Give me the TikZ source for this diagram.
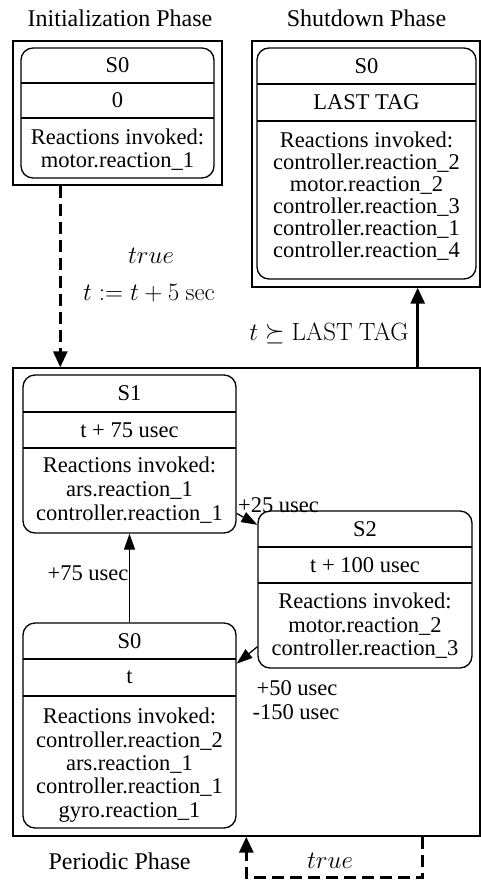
\documentclass[tikz,border=0pt]{standalone}
\usepackage{fix-cm}
\usepackage[no-math]{fontspec}
\setmainfont{Liberation Serif}
\usetikzlibrary{arrows.meta}
\begin{document}
\begin{tikzpicture}[x=1pt,y=-1pt,
  nf/.style={font=\fontsize{22.5}{27}\selectfont, inner sep=0pt},
  tf/.style={font=\fontsize{24}{29}\selectfont, inner sep=0pt},
  mf/.style={font=\fontsize{25}{30}\selectfont, inner sep=0pt},
  cluster/.style={draw, line width=1.4pt, inner sep=0pt, rectangle},
  state/.style={draw, line width=1.3pt, rounded corners=12pt, inner sep=0pt, rectangle},
  div/.style={line width=1.3pt},
  edge/.style={line width=1.3pt, -{Triangle[length=16pt,width=11pt]}},
  bigedge/.style={line width=3pt, -{Triangle[length=16pt,width=14pt]}},
  dashedge/.style={bigedge, dash pattern=on 12pt off 6pt},
]
\useasboundingbox (0,0) rectangle (481,884);

% ---------- Initialization phase ----------
\node[tf, anchor=base] (tInit) at (120,26) {Initialization Phase};
\node[cluster, minimum width=209pt, minimum height=144pt] (initbox) at (117.5,113) {};
\node[state, minimum width=193pt, minimum height=130pt] (initS0) at (117.5,113) {};
\draw[div] (21,83) -- (214,83);
\draw[div] (21,118) -- (214,118);
\node[nf] (iS) at (117.5,65.5) {S0};
\node[nf] (iT) at (117.5,100.5) {0};
\node[nf, anchor=base] (iR1) at (117.5,144) {Reactions invoked:};
\node[nf, anchor=base] (iR2) at (117.5,167) {motor.reaction\_1};

% ---------- Shutdown phase ----------
\node[tf, anchor=base] (tShut) at (366.5,26) {Shutdown Phase};
\node[cluster, minimum width=228pt, minimum height=246pt] (shutbox) at (366,164) {};
\node[state, minimum width=219pt, minimum height=231pt] (shutS0) at (366.5,163.5) {};
\draw[div] (257,84) -- (476,84);
\draw[div] (257,121) -- (476,121);
\node[nf] (sS) at (366.5,66) {S0};
\node[nf] (sT) at (366.5,102.5) {LAST TAG};
\node[nf, anchor=base] (sR1) at (366.5,147) {Reactions invoked:};
\node[nf, anchor=base] (sR2) at (366.5,169) {controller.reaction\_2};
\node[nf, anchor=base] (sR3) at (366.5,191) {motor.reaction\_2};
\node[nf, anchor=base] (sR4) at (366.5,213) {controller.reaction\_3};
\node[nf, anchor=base] (sR5) at (366.5,235) {controller.reaction\_1};
\node[nf, anchor=base] (sR6) at (366.5,257) {controller.reaction\_4};

% ---------- Periodic phase ----------
\node[tf, anchor=base] (tPer) at (119.5,869) {Periodic Phase};
\node[cluster, minimum width=467pt, minimum height=468pt] (perbox) at (246.5,602) {};

% S1
\node[state, minimum width=213pt, minimum height=158pt] (S1) at (129.5,454) {};
\draw[div] (23,412) -- (236,412);
\draw[div] (23,448) -- (236,448);
\node[nf] (aS) at (129.5,393.5) {S1};
\node[nf] (aT) at (129.5,430) {t + 75 usec};
\node[nf, anchor=base] (aR1) at (129.5,472) {Reactions invoked:};
\node[nf, anchor=base] (aR2) at (129.5,496) {ars.reaction\_1};
\node[nf, anchor=base] (aR3) at (129.5,520) {controller.reaction\_1};

% S2
\node[state, minimum width=214pt, minimum height=157pt] (S2) at (365,589.5) {};
\draw[div] (258,547) -- (472,547);
\draw[div] (258,583) -- (472,583);
\node[nf] (bS) at (365,529) {S2};
\node[nf] (bT) at (365,565) {t + 100 usec};
\node[nf, anchor=base] (bR1) at (365,608) {Reactions invoked:};
\node[nf, anchor=base] (bR2) at (365,632) {motor.reaction\_2};
\node[nf, anchor=base] (bR3) at (365,655) {controller.reaction\_3};

% S0 periodic
\node[state, minimum width=213pt, minimum height=205pt] (S0p) at (129.5,725.5) {};
\draw[div] (23,659) -- (236,659);
\draw[div] (23,696) -- (236,696);
\node[nf] (cS) at (129.5,641) {S0};
\node[nf] (cT) at (129.5,677.5) {t};
\node[nf, anchor=base] (cR1) at (129.5,723) {Reactions invoked:};
\node[nf, anchor=base] (cR2) at (129.5,747) {controller.reaction\_2};
\node[nf, anchor=base] (cR3) at (129.5,770) {ars.reaction\_1};
\node[nf, anchor=base] (cR4) at (129.5,793) {controller.reaction\_1};
\node[nf, anchor=base] (cR5) at (129.5,817) {gyro.reaction\_1};

% ---------- internal edges ----------
\draw[edge] (S1.-29.8) -- (S2.149.9);
\node[nf, anchor=base] (l25) at (278.5,512) {+25 usec};
\draw[edge] (S0p.north) -- (S1.south);
\node[nf, anchor=base] (l75) at (88,580) {+75 usec};
\draw[edge] (S2.208.7) -- (S0p.30.4);
\node[nf, anchor=base] (l50) at (297,695) {+50 usec};
\node[nf, anchor=base] (l150) at (296,719) {-150 usec};

% ---------- phase edges ----------
\draw[dashedge] ([xshift=48pt]initbox.south west) -- ([xshift=48pt]perbox.north west);
\node[mf, anchor=base] (mTrue1) at (151,263) {$true$};
\node[mf, anchor=base] (mInc) at (149,300) {$t := t + 5\ \mathrm{sec}$};

\draw[bigedge] ([xshift=-63pt]perbox.north east) -- ([xshift=-63pt]shutbox.south east);
\node[mf, anchor=base] (mLast) at (329,340) {$t \succeq \mathrm{LAST\ TAG}$};

\draw[dashedge] ([xshift=-58pt]perbox.south east) -- ++(0,41) -| ([xshift=234pt]perbox.south west);
\node[mf, anchor=base] (mTrue2) at (330,868) {$true$};
\end{tikzpicture}
\end{document}
